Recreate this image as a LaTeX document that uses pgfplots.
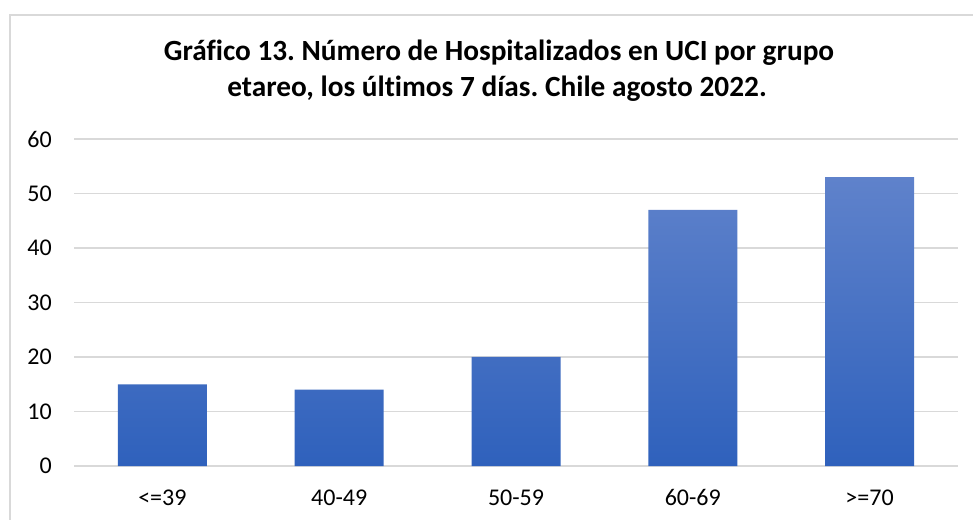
\documentclass[border=0pt]{standalone}
\usepackage{pgfplots}
\pgfplotsset{compat=1.18}
\usepackage{fontspec}
\setmainfont{Carlito}[Ligatures={NoCommon}]
\definecolor{gridc}{HTML}{D9D9D9}
\definecolor{barTop}{HTML}{5F82CB}
\definecolor{barBot}{HTML}{2F61BC}
\frenchspacing
\begin{document}
\begin{tikzpicture}[x=1pt,y=1pt]
\useasboundingbox (0,0) rectangle (973,519);
\fill[white] (0,0) rectangle (973,519);
\draw[gridc, line width=1.5pt] (10,-50) rectangle (1000,504);
\node[font=\fontsize{29.3}{34}\selectfont\bfseries, anchor=base] at (499,458) {Gráfico 13. Número de Hospitalizados en UCI por grupo};
\node[font=\fontsize{29.3}{34}\selectfont\bfseries, anchor=base] at (497,422) {etareo, los últimos 7 días. Chile agosto 2022.};
\begin{axis}[
  at={(74pt,53pt)}, anchor=south west,
  scale only axis, width=884pt, height=327pt,
  xmin=-0.5, xmax=4.5, ymin=0, ymax=60,
  ytick={0,10,...,60},
  xtick={0,1,2,3,4},
  xticklabels={{<=39},{40-49},{50-59},{60-69},{>=70}},
  axis line style={draw=none},
  major tick length=0pt,
  ymajorgrids, grid style={gridc, line width=1.5pt},
  tick label style={font=\fontsize{24}{28}\selectfont},
  /pgf/number format/assume math mode=true,
  xticklabel style={anchor=base, inner sep=0pt, yshift=-39pt},
  yticklabel style={anchor=east, inner sep=0pt, xshift=-22pt},
  clip=false,
]
\addplot[ybar, bar width=89pt, draw=none, top color=barTop, bottom color=barBot]
  coordinates {(0,15) (1,14) (2,20) (3,47) (4,53)};
\end{axis}
\end{tikzpicture}
\end{document}
